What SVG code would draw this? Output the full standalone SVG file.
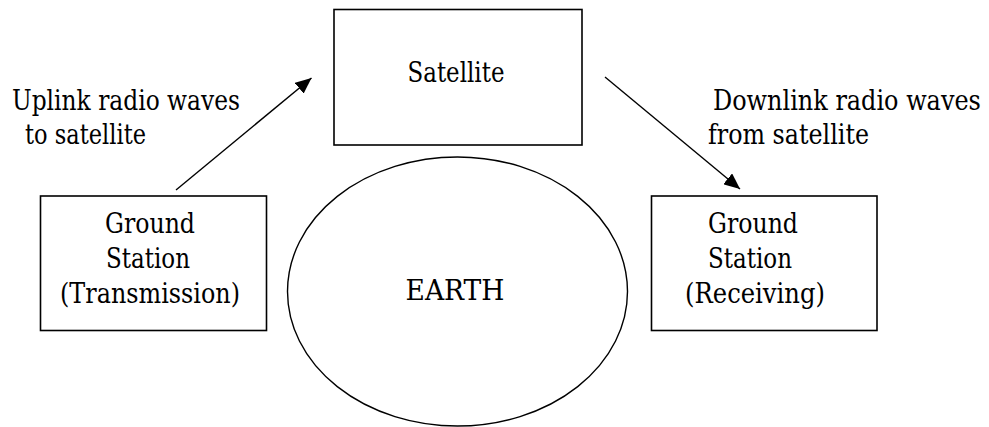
<svg xmlns="http://www.w3.org/2000/svg" width="989" height="427" viewBox="0 0 989 427">
  <style>
    .box { fill: #ffffff; stroke: #000000; stroke-width: 1.6; }
    .earth { fill: #ffffff; stroke: #000000; stroke-width: 1.4; }
    .link { fill: none; stroke: #000000; stroke-width: 1.4; }
    .t { font-family: 'DejaVu Serif', 'Liberation Serif', serif; font-size: 27px; fill: #000000; }
    .c { text-anchor: middle; }
  </style>
  <defs>
    <marker id="arrow" markerUnits="userSpaceOnUse" markerWidth="17" markerHeight="14" refX="16" refY="7" orient="auto">
      <path d="M0,0 L16,7 L0,14 z" fill="#000000"/>
    </marker>
  </defs>
  <rect x="0" y="0" width="989" height="427" fill="#ffffff"/>

  <g id="satellite">
    <rect class="box" x="334" y="9.5" width="248" height="135.5"/>
    <text class="t c" x="456" y="82" textLength="97" lengthAdjust="spacingAndGlyphs">Satellite</text>
  </g>

  <g id="earth">
    <ellipse class="earth" cx="457.5" cy="291.5" rx="170" ry="134.5"/>
    <text class="t c" x="455" y="300" textLength="99" lengthAdjust="spacingAndGlyphs">EARTH</text>
  </g>

  <g id="ground-transmission">
    <rect class="box" x="40.5" y="196" width="226" height="134.5"/>
    <text class="t" x="105" y="233" textLength="90" lengthAdjust="spacingAndGlyphs">Ground</text>
    <text class="t" x="106" y="268" textLength="84" lengthAdjust="spacingAndGlyphs">Station</text>
    <text class="t" x="60" y="303" textLength="180" lengthAdjust="spacingAndGlyphs">(Transmission)</text>
  </g>

  <g id="ground-receiving">
    <rect class="box" x="651.5" y="196" width="225.5" height="134.5"/>
    <text class="t" x="708" y="233" textLength="90" lengthAdjust="spacingAndGlyphs">Ground</text>
    <text class="t" x="708" y="268" textLength="84" lengthAdjust="spacingAndGlyphs">Station</text>
    <text class="t" x="685" y="303" textLength="140" lengthAdjust="spacingAndGlyphs">(Receiving)</text>
  </g>

  <g id="label-uplink">
    <text class="t" x="12" y="110" textLength="228" lengthAdjust="spacingAndGlyphs">Uplink radio waves</text>
    <text class="t" x="25" y="144" textLength="121" lengthAdjust="spacingAndGlyphs">to satellite</text>
  </g>

  <g id="label-downlink">
    <g transform="translate(713,110) scale(0.89,1)">
      <text class="t" x="0" y="0" textLength="301" lengthAdjust="spacingAndGlyphs">Downlink radio waves</text>
    </g>
    <text class="t" x="708" y="144" textLength="161" lengthAdjust="spacingAndGlyphs">from satellite</text>
  </g>

  <g id="connectors">
    <line class="link" x1="176" y1="190" x2="311.5" y2="78" marker-end="url(#arrow)"/>
    <line class="link" x1="605" y1="77" x2="740" y2="189" marker-end="url(#arrow)"/>
  </g>
</svg>
